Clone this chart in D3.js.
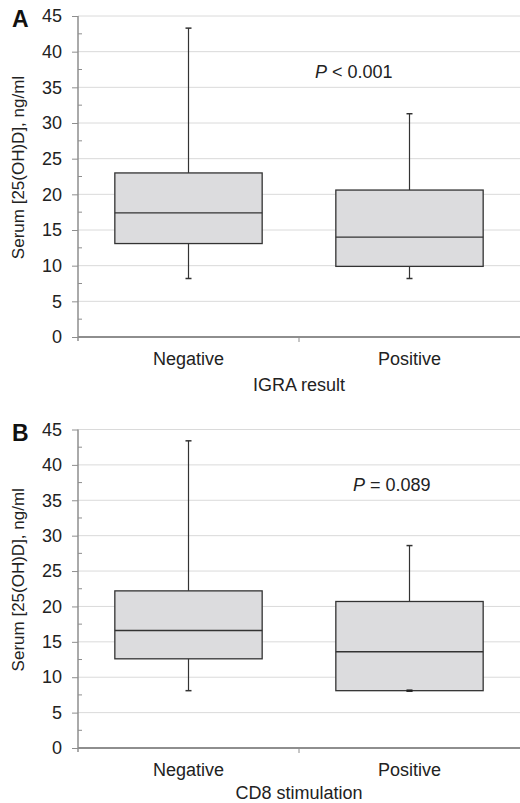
<!DOCTYPE html>
<html>
<head>
<meta charset="utf-8">
<script src="https://cdn.jsdelivr.net/npm/d3@7"></script>
<style>
  body { margin: 0; background: #fff; }
  svg { display: block; font-family: "Liberation Sans", Arial, sans-serif; }
</style>
</head>
<body>
<div id="chart"></div>
<script>
const groups = ["Negative", "Positive"];
const yTicks = [0, 5, 10, 15, 20, 25, 30, 35, 40, 45];

// panel A: IGRA result
const igraMin = [8.2, 8.2];
const igraQ1 = [13.1, 9.9];
const igraMedian = [17.4, 14.0];
const igraQ3 = [23.0, 20.6];
const igraMax = [43.3, 31.3];

// panel B: CD8 stimulation
const cd8Min = [8.1, 8.1];
const cd8Q1 = [12.6, 8.1];
const cd8Median = [16.6, 13.6];
const cd8Q3 = [22.2, 20.7];
const cd8Max = [43.4, 28.6];

const width = 520, height = 803;
const svg = d3.select("#chart").append("svg")
  .attr("width", width)
  .attr("height", height);

const panels = [
  { letter: "A", title: "IGRA result", titleDy: 53.5, pText: "< 0.001", pX: 315, top: 16, bottom: 337,
    min: igraMin, q1: igraQ1, med: igraMedian, q3: igraQ3, max: igraMax },
  { letter: "B", title: "CD8 stimulation", titleDy: 51, pText: "= 0.089", pX: 353, top: 429.5, bottom: 748,
    min: cd8Min, q1: cd8Q1, med: cd8Median, q3: cd8Q3, max: cd8Max }
];

const left = 78, right = 520;
const axisColor = "#8e8e8e", gridColor = "#dadada", ink = "#222";

const x = d3.scaleBand().domain(groups).range([left, right]).paddingInner(0).paddingOuter(0);
const boxW = x.bandwidth() * 2 / 3;

panels.forEach(p => {
  const y = d3.scaleLinear().domain([0, 45]).range([p.bottom, p.top]);
  const g = svg.append("g");

  // gridlines
  g.append("g").selectAll("line")
    .data(yTicks.filter(d => d > 0))
    .join("line")
    .attr("x1", left).attr("x2", right)
    .attr("y1", d => y(d)).attr("y2", d => y(d))
    .attr("stroke", gridColor).attr("stroke-width", 1);

  // minor ticks (inside)
  g.append("g").selectAll("line")
    .data(d3.range(2.5, 45, 5))
    .join("line")
    .attr("x1", left).attr("x2", left + 4)
    .attr("y1", d => y(d)).attr("y2", d => y(d))
    .attr("stroke", axisColor).attr("stroke-width", 1);

  // y axis
  const yAxis = g.append("g")
    .attr("transform", `translate(${left},0)`)
    .call(d3.axisLeft(y).tickValues(yTicks).tickSize(6).tickPadding(10).tickSizeOuter(0));
  yAxis.select(".domain").attr("stroke", axisColor).attr("stroke-width", 1.5)
    .attr("d", `M0,${p.bottom + 4}V${p.top}`);
  yAxis.selectAll(".tick line").attr("stroke", axisColor).attr("stroke-width", 1);
  yAxis.selectAll(".tick text").attr("fill", ink).attr("font-size", 18)
    .attr("font-family", "Liberation Sans, Arial, sans-serif");

  // x axis
  g.append("line")
    .attr("x1", left).attr("x2", right)
    .attr("y1", p.bottom).attr("y2", p.bottom)
    .attr("stroke", axisColor).attr("stroke-width", 2);
  g.append("line")
    .attr("x1", x("Positive")).attr("x2", x("Positive"))
    .attr("y1", p.bottom).attr("y2", p.bottom + 5)
    .attr("stroke", axisColor).attr("stroke-width", 1);

  g.append("g").selectAll("text")
    .data(groups)
    .join("text")
    .attr("x", d => x(d) + x.bandwidth() / 2)
    .attr("y", p.bottom + 28)
    .attr("text-anchor", "middle")
    .attr("font-size", 18).attr("fill", ink)
    .text(d => d);

  g.append("text")
    .attr("x", (left + right) / 2)
    .attr("y", p.bottom + p.titleDy)
    .attr("text-anchor", "middle")
    .attr("font-size", 18).attr("fill", ink)
    .text(p.title);

  // y title
  g.append("text")
    .attr("transform", `translate(24,${(p.top + p.bottom) / 2 - 9}) rotate(-90)`)
    .attr("text-anchor", "middle")
    .attr("font-size", 17).attr("fill", ink)
    .text("Serum [25(OH)D], ng/ml");

  // panel letter
  g.append("text")
    .attr("x", 12).attr("y", p.top + 11)
    .attr("font-size", 23).attr("font-weight", "bold").attr("fill", "#111")
    .text(p.letter);

  // p value
  const pt = g.append("text")
    .attr("x", p.pX).attr("y", y(36.3))
    .attr("font-size", 18).attr("fill", ink);
  pt.append("tspan").attr("font-style", "italic").text("P");
  pt.append("tspan").text(" " + p.pText);

  // boxes
  const boxes = g.append("g").selectAll("g")
    .data(groups.map((name, i) => ({ name, min: p.min[i], q1: p.q1[i], med: p.med[i], q3: p.q3[i], max: p.max[i] })))
    .join("g");

  const cx = d => x(d.name) + x.bandwidth() / 2;

  boxes.append("line")
    .attr("x1", cx).attr("x2", cx)
    .attr("y1", d => y(d.max)).attr("y2", d => y(d.q3))
    .attr("stroke", "#333").attr("stroke-width", 1.2);
  boxes.append("line")
    .attr("x1", cx).attr("x2", cx)
    .attr("y1", d => y(d.q1)).attr("y2", d => y(d.min))
    .attr("stroke", "#333").attr("stroke-width", 1.2);
  boxes.append("line")
    .attr("x1", d => cx(d) - 3).attr("x2", d => cx(d) + 3)
    .attr("y1", d => y(d.max)).attr("y2", d => y(d.max))
    .attr("stroke", "#333").attr("stroke-width", 1.5);
  boxes.append("line")
    .attr("x1", d => cx(d) - 3).attr("x2", d => cx(d) + 3)
    .attr("y1", d => y(d.min)).attr("y2", d => y(d.min))
    .attr("stroke", "#333").attr("stroke-width", 1.5);

  boxes.append("rect")
    .attr("x", d => cx(d) - boxW / 2)
    .attr("width", boxW)
    .attr("y", d => y(d.q3))
    .attr("height", d => y(d.q1) - y(d.q3))
    .attr("fill", "#dcdcde")
    .attr("stroke", "#333").attr("stroke-width", 1.3);
  boxes.append("line")
    .attr("x1", d => cx(d) - boxW / 2).attr("x2", d => cx(d) + boxW / 2)
    .attr("y1", d => y(d.med)).attr("y2", d => y(d.med))
    .attr("stroke", "#333").attr("stroke-width", 1.3);

  // thicker cap when min sits on the box edge
  boxes.filter(d => d.min === d.q1).append("line")
    .attr("x1", d => cx(d) - 3).attr("x2", d => cx(d) + 3)
    .attr("y1", d => y(d.min)).attr("y2", d => y(d.min))
    .attr("stroke", "#222").attr("stroke-width", 2.5);
});
</script>
</body>
</html>
